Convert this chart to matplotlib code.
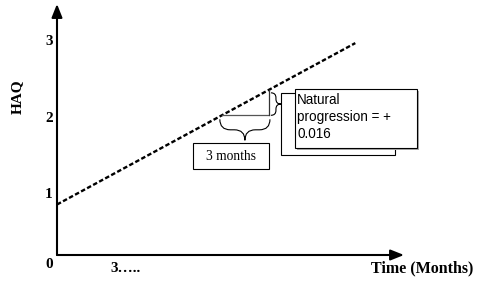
"""Schematic: natural HAQ progression over time."""

import matplotlib.pyplot as plt
from matplotlib.path import Path
from matplotlib.patches import PathPatch, Rectangle

# ── Data (months, HAQ) ────────────────────────────────────────────────────────
line_months = [0, 19]
line_haq    = [0.66, 2.77]
run_months  = [10.5, 13.5]          # the "3 months" step
haq_ticks   = [1, 2, 3]
month_tick  = 3
month_label = "3….."
run_text    = "3 months"
rise_text   = "Natural\nprogression = +\n0.016"

# ── Layout (image pixels) ─────────────────────────────────────────────────────
W, H   = 483, 281
X0, Y0 = 57, 255            # origin
KX, KY = 15.7, 76.5         # px per month / px per HAQ unit
SERIF  = "Liberation Serif"
SANS   = "Liberation Sans"


def px(x, y):
    """image pixel -> data coords"""
    return (x - X0) / KX, (Y0 - y) / KY


def haq_at(m):
    slope = (line_haq[1] - line_haq[0]) / (line_months[1] - line_months[0])
    return line_haq[0] + slope * (m - line_months[0])


def brace(ax, p0, p1, depth, lw=0.8):
    """curly brace between two pixel points, bulging to the left of p0->p1"""
    (x0, y0), (x1, y1) = p0, p1
    L = ((x1 - x0) ** 2 + (y1 - y0) ** 2) ** 0.5
    ux, uy = (x1 - x0) / L, (y1 - y0) / L
    nx, ny = -uy, ux
    h = depth / 2
    r = min(h, L / 4)
    local = [(0, 0), (0, h), (r, h), (L / 2 - r, h), (L / 2, h), (L / 2, depth),
             (L / 2, h), (L / 2 + r, h), (L - r, h), (L, h), (L, 0)]
    codes = [Path.MOVETO, Path.CURVE3, Path.CURVE3, Path.LINETO, Path.CURVE3,
             Path.CURVE3, Path.CURVE3, Path.CURVE3, Path.LINETO, Path.CURVE3,
             Path.CURVE3]
    verts = [px(x0 + s * ux + t * nx, y0 + s * uy + t * ny) for s, t in local]
    ax.add_patch(PathPatch(Path(verts, codes), fill=False, lw=lw, ec="black"))


def rect_px(ax, x0, y0, x1, y1, **kw):
    ll = px(x0, y1)
    ax.add_patch(Rectangle(ll, (x1 - x0) / KX, (y1 - y0) / KY, **kw))


fig = plt.figure(figsize=(W / 100, H / 100), dpi=100)
ax = fig.add_axes([0, 0, 1, 1])
ax.set_xlim(-X0 / KX, (W - X0) / KX)
ax.set_ylim(-(H - Y0) / KY, Y0 / KY)
ax.axis("off")

# ── Axes with arrows ──────────────────────────────────────────────────────────
arrow = dict(arrowstyle="-|>,head_length=0.8,head_width=0.32", lw=1.5,
             color="black", shrinkA=0, shrinkB=0, mutation_scale=10)
ax.annotate("", xy=px(X0, 4), xytext=(0, 0), arrowprops=arrow)
ax.annotate("", xy=px(404, Y0), xytext=(0, 0), arrowprops=arrow)

# ── Progression line ──────────────────────────────────────────────────────────
ax.plot(line_months, line_haq, color="black", lw=1.7, dashes=(1.9, 1.0))

# run / rise
h_run = haq_at(run_months[0])
h_rise = haq_at(run_months[1])
ax.plot(run_months, [h_run, h_run], color="#555555", lw=0.9)
ax.plot([run_months[1], run_months[1]], [h_run, h_rise], color="#333333", lw=0.9)

# braces (pixel space)
rx0 = X0 + KX * run_months[0]
rx1 = X0 + KX * run_months[1]
ry = Y0 - KY * h_run
ry_top = Y0 - KY * h_rise
brace(ax, (rx0 - 2, ry + 4), (rx1 + 1, ry + 4), 21)
brace(ax, (rx1 + 2, ry), (rx1 + 2, ry_top + 3), 10)

# "3 months" box
rect_px(ax, 193, 143, 269, 169, fill=False, lw=0.8, ec="black")
ax.text(*px(231, 156), run_text, ha="center", va="center",
        family=SERIF, fontsize=9.75)

# natural progression boxes
rect_px(ax, 281, 93, 395, 155, fill=False, lw=0.8, ec="black")
rect_px(ax, 297, 91, 419, 150, fc="#aaaaaa", ec="none")
rect_px(ax, 295, 89, 417, 148, fc="white", lw=0.8, ec="black")
ax.text(*px(297, 93), rise_text, ha="left", va="top", family=SANS,
        fontsize=9.75, linespacing=1.27)

# ── Tick labels / axis titles ─────────────────────────────────────────────────
for t in haq_ticks:
    ax.annotate(str(t), xy=(0, t), xytext=(-8 * 0.72, -16 * 0.72),
                textcoords="offset points", ha="center", va="center",
                family=SERIF, fontweight="bold", fontsize=11)
ax.annotate("0", xy=(0, 0), xytext=(-8 * 0.72, -10 * 0.72),
            textcoords="offset points", ha="center", va="center",
            family=SERIF, fontweight="bold", fontsize=11)
ax.annotate(month_label, xy=(month_tick, 0), xytext=(6 * 0.72, -13 * 0.72),
            textcoords="offset points", ha="left", va="center",
            family=SERIF, fontweight="bold", fontsize=11)
ax.text(*px(473, 268), "Time (Months)", ha="right", va="center",
        family=SERIF, fontweight="bold", fontsize=11.5)
ax.text(*px(17, 97), "HAQ", ha="center", va="center", rotation=90,
        family=SERIF, fontweight="bold", fontsize=11)

fig.savefig("out.png", dpi=100)
